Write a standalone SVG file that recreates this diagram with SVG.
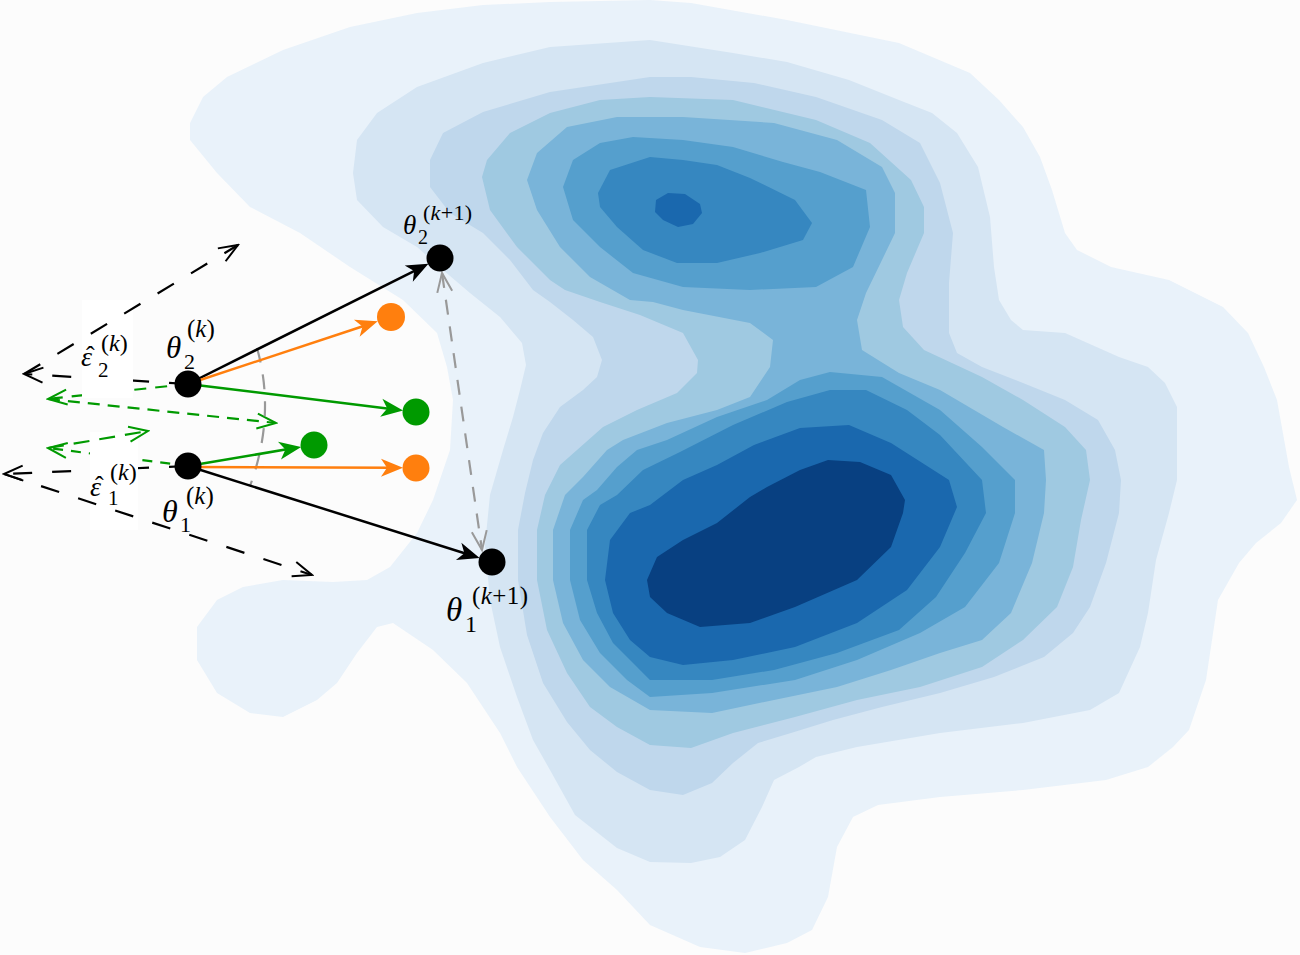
<svg xmlns="http://www.w3.org/2000/svg" width="1300" height="955" viewBox="0 0 1300 955">
<defs>
<style>
.c1{fill:#e9f2fa}.c2{fill:#d5e5f3}.c3{fill:#bfd7ec}.c4{fill:#9fc9e1}.c5{fill:#79b4d9}.c6{fill:#559fcd}.c7{fill:#3687c0}.c8{fill:#1a68ae}.c9{fill:#084081}
.sk{stroke:#000;stroke-width:2.5;fill:none}
.so{stroke:#ff7f0e;stroke-width:2.5;fill:none}
.sg{stroke:#009a00;stroke-width:2.5;fill:none}
.dk{stroke:#000;stroke-width:2.2;fill:none;stroke-dasharray:19 20}
.dg{stroke:#009a00;stroke-width:2.2;fill:none}
.dgr{stroke:#999;stroke-width:2.2;fill:none;stroke-dasharray:15 12}
.box{fill:#fff}
text{font-family:"Liberation Serif","DejaVu Serif",serif;fill:#000}
.it{font-style:italic}
.up{font-style:normal}
</style>
<marker id="ak" viewBox="-23 -10 25 20" refX="-10" refY="0" markerWidth="25" markerHeight="20" markerUnits="userSpaceOnUse" orient="auto"><path d="M0,0 L-22,-9 L-16,0 L-22,9 Z" fill="#000"/></marker>
<marker id="ao" viewBox="-23 -10 25 20" refX="-10" refY="0" markerWidth="25" markerHeight="20" markerUnits="userSpaceOnUse" orient="auto"><path d="M0,0 L-22,-9 L-16,0 L-22,9 Z" fill="#ff7f0e"/></marker>
<marker id="ag" viewBox="-23 -10 25 20" refX="-10" refY="0" markerWidth="25" markerHeight="20" markerUnits="userSpaceOnUse" orient="auto"><path d="M0,0 L-22,-9 L-16,0 L-22,9 Z" fill="#009a00"/></marker>
<marker id="ok" viewBox="-22 -10 24 20" refX="0" refY="0" markerWidth="24" markerHeight="20" markerUnits="userSpaceOnUse" orient="auto"><path d="M-19,-7.5 L0,0 L-19,7.5" fill="none" stroke="#000" stroke-width="2" stroke-dasharray="none"/></marker>
<marker id="og" viewBox="-22 -10 24 20" refX="0" refY="0" markerWidth="24" markerHeight="20" markerUnits="userSpaceOnUse" orient="auto"><path d="M-19,-7.5 L0,0 L-19,7.5" fill="none" stroke="#009a00" stroke-width="2" stroke-dasharray="none"/></marker>
<marker id="ogr" viewBox="-22 -10 24 20" refX="0" refY="0" markerWidth="24" markerHeight="20" markerUnits="userSpaceOnUse" orient="auto-start-reverse"><path d="M-19,-7.5 L0,0 L-19,7.5" fill="none" stroke="#999" stroke-width="2" stroke-dasharray="none"/></marker>
</defs>
<rect width="1300" height="955" fill="#fcfcfc"/>
<g id="density">
<path class="c1" d="M190,123 L203,97 L227,77 L283,50 L350,27 L417,13 L483,5 L550,2 L650,0 L691,3 L787,20 L899,43 L970,73 L999,100 L1023,127 L1040,157 L1052,190 L1065,233 L1077,250 L1111,267 L1169,280 L1223,307 L1248,333 L1264,367 L1277,400 L1289,467 L1297,500 L1281,523 L1256,543 L1239,563 L1218,600 L1206,680 L1189,730 L1173,747 L1148,767 L1106,780 L1023,790 L940,797 L878,805 L853,817 L837,847 L828,897 L812,930 L787,943 L745,953 L700,947 L650,925 L617,890 L583,860 L550,817 L517,767 L500,733 L467,683 L433,650 L393,623 L377,627 L357,653 L337,683 L317,700 L283,717 L250,713 L217,693 L197,660 L197,627 L217,600 L243,587 L283,580 L333,582 L367,580 L390,567 L417,533 L433,500 L450,450 L453,400 L447,367 L437,333 L403,300 L350,267 L300,233 L250,207 L217,173 L190,140 Z"/>
<path class="c2" d="M353,173 L357,140 L377,113 L417,87 L483,63 L550,47 L650,40 L733,53 L787,62 L849,80 L899,100 L932,113 L957,133 L978,167 L990,217 L994,267 L999,300 L1011,320 L1023,330 L1065,333 L1119,357 L1148,367 L1165,383 L1177,407 L1177,480 L1169,513 L1156,560 L1148,613 L1140,647 L1119,693 L1090,710 L1023,723 L940,733 L857,747 L816,757 L799,767 L774,780 L762,807 L745,840 L720,857 L691,863 L650,862 L617,848 L575,815 L550,770 L533,740 L517,697 L500,647 L490,600 L485,545 L490,495 L503,450 L513,417 L520,390 L526,365 L522,343 L500,317 L470,293 L443,270 L417,247 L383,227 L357,200 Z"/>
<path class="c3" d="M430,160 L443,133 L483,112 L550,92 L650,77 L691,77 L754,83 L816,97 L882,120 L920,143 L940,183 L953,233 L949,283 L949,333 L957,353 L982,367 L1023,383 L1065,400 L1098,420 L1115,450 L1121,480 L1119,513 L1106,563 L1090,607 L1073,633 L1044,657 L994,677 L940,693 L882,707 L833,720 L791,733 L758,743 L733,763 L712,783 L683,795 L650,790 L617,772 L590,750 L567,722 L543,683 L527,635 L518,580 L518,530 L525,493 L533,460 L543,433 L560,407 L583,390 L597,377 L602,360 L593,337 L573,320 L550,302 L533,290 L510,260 L483,233 L450,213 L430,187 Z"/>
<path class="c4" d="M482,177 L487,160 L510,133 L550,113 L600,100 L650,97 L733,100 L816,120 L870,143 L911,180 L924,207 L924,233 L907,273 L899,300 L903,327 L924,350 L982,377 L1023,400 L1065,427 L1086,450 L1090,480 L1081,520 L1073,567 L1057,607 L1023,640 L982,667 L920,687 L857,700 L795,717 L733,733 L691,748 L650,745 L617,727 L590,707 L567,673 L547,630 L537,580 L537,530 L545,495 L560,465 L577,450 L603,427 L637,410 L677,393 L697,373 L698,360 L683,333 L640,315 L600,302 L565,290 L550,280 L517,247 L490,210 Z"/>
<path class="c5" d="M527,180 L537,153 L567,127 L617,117 L683,117 L774,123 L837,140 L882,167 L895,193 L895,233 L882,260 L866,293 L857,320 L862,350 L899,373 L940,390 L1003,427 L1044,450 L1046,480 L1044,513 L1032,563 L1011,613 L982,640 L940,653 L891,670 L837,687 L774,700 L712,713 L650,710 L610,687 L583,660 L563,623 L553,580 L553,530 L565,495 L583,477 L607,450 L623,440 L667,423 L717,410 L750,397 L770,367 L773,340 L750,323 L683,310 L653,302 L630,300 L590,277 L560,247 L537,210 Z"/>
<path class="c6" d="M563,187 L573,160 L600,143 L633,137 L683,140 L733,147 L783,162 L820,172 L866,190 L870,227 L853,267 L816,287 L750,290 L683,287 L633,273 L600,247 L573,220 Z"/>
<path class="c6" d="M637,450 L667,440 L717,417 L767,400 L800,380 L830,372 L882,377 L940,410 L982,447 L1015,480 L1015,513 L999,563 L965,607 L920,633 L857,660 L795,680 L712,693 L650,697 L627,680 L600,653 L580,620 L570,580 L570,530 L583,500 L597,490 L617,467 Z"/>
<path class="c7" d="M598,193 L610,170 L650,157 L683,160 L717,165 L750,178 L795,200 L812,223 L803,240 L760,253 L717,263 L677,263 L643,250 L617,227 L600,207 Z"/>
<path class="c7" d="M617,495 L643,470 L680,452 L733,425 L787,402 L830,390 L866,390 L907,410 L940,435 L982,480 L986,513 L965,553 L936,597 L899,630 L837,653 L774,670 L712,680 L650,680 L637,667 L613,643 L597,613 L587,580 L587,530 L600,505 Z"/>
<path class="c8" d="M656,200 L668,193 L685,194 L700,204 L702,213 L693,224 L678,227 L663,220 L655,212 Z"/>
<path class="c8" d="M650,505 L683,480 L717,465 L754,445 L800,428 L849,425 L891,443 L949,480 L957,507 L940,547 L907,590 L857,623 L795,647 L733,660 L683,665 L650,657 L630,640 L613,613 L605,580 L610,540 L630,513 Z"/>
<path class="c9" d="M647,580 L657,557 L683,540 L717,523 L750,497 L767,487 L800,470 L828,460 L860,462 L891,475 L905,500 L903,513 L891,547 L857,580 L795,607 L750,623 L700,627 L667,613 L650,597 Z"/>
</g>
<g id="connectors">
<path class="dk" d="M188,384 L24,374" marker-end="url(#ok)"/>
<path class="dk" d="M188,466 L4,474" marker-end="url(#ok)"/>
<path class="dg" stroke-dasharray="12 9" d="M188,384 L48,399" marker-end="url(#og)"/>
<path class="dg" stroke-dasharray="10 8" d="M188,466 L48,448" marker-end="url(#og)"/>
<rect class="box" x="82" y="300" width="51" height="98"/>
<rect class="box" x="90" y="432" width="48" height="98"/>
<path class="dk" d="M24,374 L238,245" marker-end="url(#ok)"/>
<path class="dk" d="M4,474 L312,575" marker-end="url(#ok)"/>
<path class="dg" stroke-dasharray="12 8" d="M48,399 L276,423" marker-end="url(#og)"/>
<path class="dg" stroke-dasharray="16 10" d="M48,448 L148,431" marker-end="url(#og)"/>
<path class="dgr" stroke-dasharray="14 26" d="M257,348 Q276,415 250,486"/>
<path class="dgr" d="M442,273 L482,550" marker-start="url(#ogr)" marker-end="url(#ogr)"/>
<path class="sk" d="M188,384 L419.5,268.3" marker-end="url(#ak)"/>
<path class="so" d="M188,384 L368.2,324.5" marker-end="url(#ao)"/>
<path class="sg" d="M188,384 L393.2,409.2" marker-end="url(#ag)"/>
<path class="sg" d="M188,466 L291.3,448.6" marker-end="url(#ag)"/>
<path class="so" d="M188,467 L393,467.8" marker-end="url(#ao)"/>
<path class="sk" d="M188,466 L470.1,555" marker-end="url(#ak)"/>
</g>
<g id="eps2">
<text x="81" y="366" font-size="28" class="it">ε<tspan class="up" font-size="26" dx="-6" dy="-2">ˆ</tspan></text>
<text x="98" y="377" font-size="21">2</text>
<text x="101" y="351" font-size="24">(<tspan class="it">k</tspan>)</text>
</g>
<g id="eps1">
<text x="90" y="496" font-size="28" class="it">ε<tspan class="up" font-size="26" dx="-6" dy="-2">ˆ</tspan></text>
<text x="108" y="505" font-size="21">1</text>
<text x="110" y="480" font-size="24">(<tspan class="it">k</tspan>)</text>
</g>
<g id="theta2_k">
<circle cx="188" cy="384" r="13.5" fill="#000"/>
<text x="166" y="358" font-size="31" class="it">θ</text>
<text x="184" y="369" font-size="22">2</text>
<text x="187" y="337" font-size="25">(<tspan class="it">k</tspan>)</text>
</g>
<g id="theta1_k">
<circle cx="188" cy="466" r="13.5" fill="#000"/>
<text x="162" y="522" font-size="32" class="it">θ</text>
<text x="180" y="532" font-size="22">1</text>
<text x="186" y="504" font-size="25">(<tspan class="it">k</tspan>)</text>
</g>
<g id="theta2_k1">
<circle cx="440" cy="258" r="13.5" fill="#000"/>
<text x="403" y="234" font-size="27" class="it">θ</text>
<text x="418" y="244" font-size="20">2</text>
<text x="423" y="220" font-size="22" textLength="49" lengthAdjust="spacing">(<tspan class="it">k</tspan>+1)</text>
</g>
<g id="theta1_k1">
<circle cx="492" cy="562" r="13.5" fill="#000"/>
<text x="446" y="621" font-size="33" class="it">θ</text>
<text x="465" y="632" font-size="24">1</text>
<text x="472" y="604" font-size="25" textLength="56" lengthAdjust="spacing">(<tspan class="it">k</tspan>+1)</text>
</g>
<g id="orange2"><circle cx="391" cy="317" r="14" fill="#ff7f0e"/></g>
<g id="green2"><circle cx="416" cy="412" r="13.5" fill="#009a00"/></g>
<g id="green1"><circle cx="314" cy="445" r="13.5" fill="#009a00"/></g>
<g id="orange1"><circle cx="416" cy="468" r="13.5" fill="#ff7f0e"/></g>
</svg>
